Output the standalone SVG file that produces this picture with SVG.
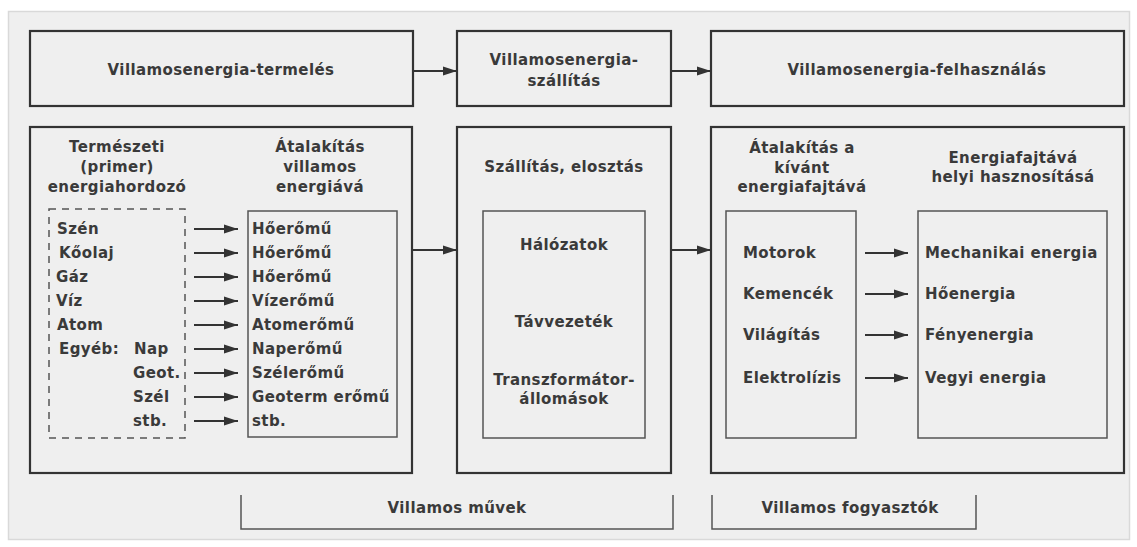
<svg xmlns="http://www.w3.org/2000/svg" width="1137" height="547" viewBox="0 0 1137 547">
<defs>
<marker id="ah" viewBox="0 0 14 10" refX="14" refY="5" markerWidth="14" markerHeight="10" markerUnits="userSpaceOnUse" orient="auto">
<path d="M0,0.5 L14,5 L0,9.5 Z" fill="#333"/>
</marker>
<style>
text{font-family:"DejaVu Sans",Verdana,sans-serif;font-weight:bold;font-size:15px;fill:#3a3a3a;letter-spacing:0.4px}
.c{text-anchor:middle}
.box{fill:none;stroke:#333;stroke-width:2.2}
.inner{fill:none;stroke:#555;stroke-width:1.5}
.dash{fill:none;stroke:#555;stroke-width:1.5;stroke-dasharray:7,6}
.ar{stroke:#333;stroke-width:2;fill:none;marker-end:url(#ah)}
.br{fill:none;stroke:#555;stroke-width:1.5}
</style>
</defs>
<rect x="0" y="0" width="1137" height="547" fill="#ffffff"/>
<rect x="8.5" y="11.5" width="1121" height="528" fill="#efefef" stroke="#d9d9d9" stroke-width="1.5"/>

<g id="termeles">
<rect class="box" x="30" y="31" width="383" height="75"/>
<text class="c" x="221" y="75">Villamosenergia-termelés</text>
</g>
<g id="szallitas">
<rect class="box" x="457" y="31" width="214" height="75"/>
<text class="c" x="564" y="65">Villamosenergia-</text>
<text class="c" x="564" y="86">szállítás</text>
</g>
<g id="felhasznalas">
<rect class="box" x="711" y="31" width="413" height="75"/>
<text class="c" x="917" y="75">Villamosenergia-felhasználás</text>
</g>

<g id="termeles-reszlet">
<rect class="box" x="30" y="127" width="382" height="346"/>
<text class="c" x="117" y="152">Természeti</text>
<text class="c" x="117" y="172">(primer)</text>
<text class="c" x="117" y="192">energiahordozó</text>
<text class="c" x="320" y="152">Átalakítás</text>
<text class="c" x="320" y="172">villamos</text>
<text class="c" x="320" y="192">energiává</text>
</g>
<g id="energiahordozok">
<rect class="dash" x="49" y="209" width="136" height="229"/>
<text x="57" y="234">Szén</text>
<text x="59" y="258">Kőolaj</text>
<text x="56" y="282">Gáz</text>
<text x="56" y="306">Víz</text>
<text x="57" y="330">Atom</text>
<text x="59" y="354">Egyéb:</text>
<text x="134" y="354">Nap</text>
<text x="133" y="378">Geot.</text>
<text x="133" y="402">Szél</text>
<text x="133" y="426">stb.</text>
</g>
<g id="eromuvek">
<rect class="inner" x="248" y="211" width="149" height="226"/>
<text x="252" y="234">Hőerőmű</text>
<text x="252" y="258">Hőerőmű</text>
<text x="252" y="282">Hőerőmű</text>
<text x="252" y="306">Vízerőmű</text>
<text x="252" y="330">Atomerőmű</text>
<text x="252" y="354">Naperőmű</text>
<text x="252" y="378">Szélerőmű</text>
<text x="252" y="402">Geoterm erőmű</text>
<text x="252" y="426">stb.</text>
</g>

<g id="szallitas-reszlet">
<rect class="box" x="457" y="127" width="214" height="346"/>
<text class="c" x="564" y="172">Szállítás, elosztás</text>
<rect class="inner" x="483" y="211" width="162" height="227"/>
<text class="c" x="564" y="250">Hálózatok</text>
<text class="c" x="564" y="327">Távvezeték</text>
<text class="c" x="564" y="385">Transzformátor-</text>
<text class="c" x="564" y="404">állomások</text>
</g>

<g id="felhasznalas-reszlet">
<rect class="box" x="711" y="127" width="413" height="346"/>
<text class="c" x="802" y="153">Átalakítás a</text>
<text class="c" x="802" y="173">kívánt</text>
<text class="c" x="802" y="192">energiafajtává</text>
<text class="c" x="1013" y="163">Energiafajtává</text>
<text class="c" x="1013" y="182">helyi hasznosításá</text>
</g>
<g id="atalakitok">
<rect class="inner" x="726" y="211" width="130" height="227"/>
<text x="743" y="258">Motorok</text>
<text x="743" y="299">Kemencék</text>
<text x="743" y="340">Világítás</text>
<text x="743" y="383">Elektrolízis</text>
</g>
<g id="energiafajtak">
<rect class="inner" x="918" y="211" width="189" height="227"/>
<text x="925" y="258">Mechanikai energia</text>
<text x="925" y="299">Hőenergia</text>
<text x="925" y="340">Fényenergia</text>
<text x="925" y="383">Vegyi energia</text>
</g>

<g id="villamos-muvek">
<path class="br" d="M241,495 V529 H673 V495"/>
<text class="c" x="457" y="513">Villamos művek</text>
</g>
<g id="villamos-fogyasztok">
<path class="br" d="M712,495 V529 H976 V495"/>
<text class="c" x="850" y="513">Villamos fogyasztók</text>
</g>

<g id="connectors">
<line class="ar" x1="413" y1="71" x2="457" y2="71"/>
<line class="ar" x1="671" y1="71" x2="711" y2="71"/>
<line class="ar" x1="412" y1="250" x2="457" y2="250"/>
<line class="ar" x1="671" y1="250" x2="711" y2="250"/>
<line class="ar" x1="194" y1="229" x2="238" y2="229"/>
<line class="ar" x1="194" y1="253" x2="238" y2="253"/>
<line class="ar" x1="194" y1="277" x2="238" y2="277"/>
<line class="ar" x1="194" y1="301" x2="238" y2="301"/>
<line class="ar" x1="194" y1="325" x2="238" y2="325"/>
<line class="ar" x1="194" y1="349" x2="238" y2="349"/>
<line class="ar" x1="194" y1="373" x2="238" y2="373"/>
<line class="ar" x1="194" y1="397" x2="238" y2="397"/>
<line class="ar" x1="194" y1="421" x2="238" y2="421"/>
<line class="ar" x1="865" y1="253" x2="908" y2="253"/>
<line class="ar" x1="865" y1="294" x2="908" y2="294"/>
<line class="ar" x1="865" y1="335" x2="908" y2="335"/>
<line class="ar" x1="865" y1="378" x2="908" y2="378"/>
</g>
</svg>
